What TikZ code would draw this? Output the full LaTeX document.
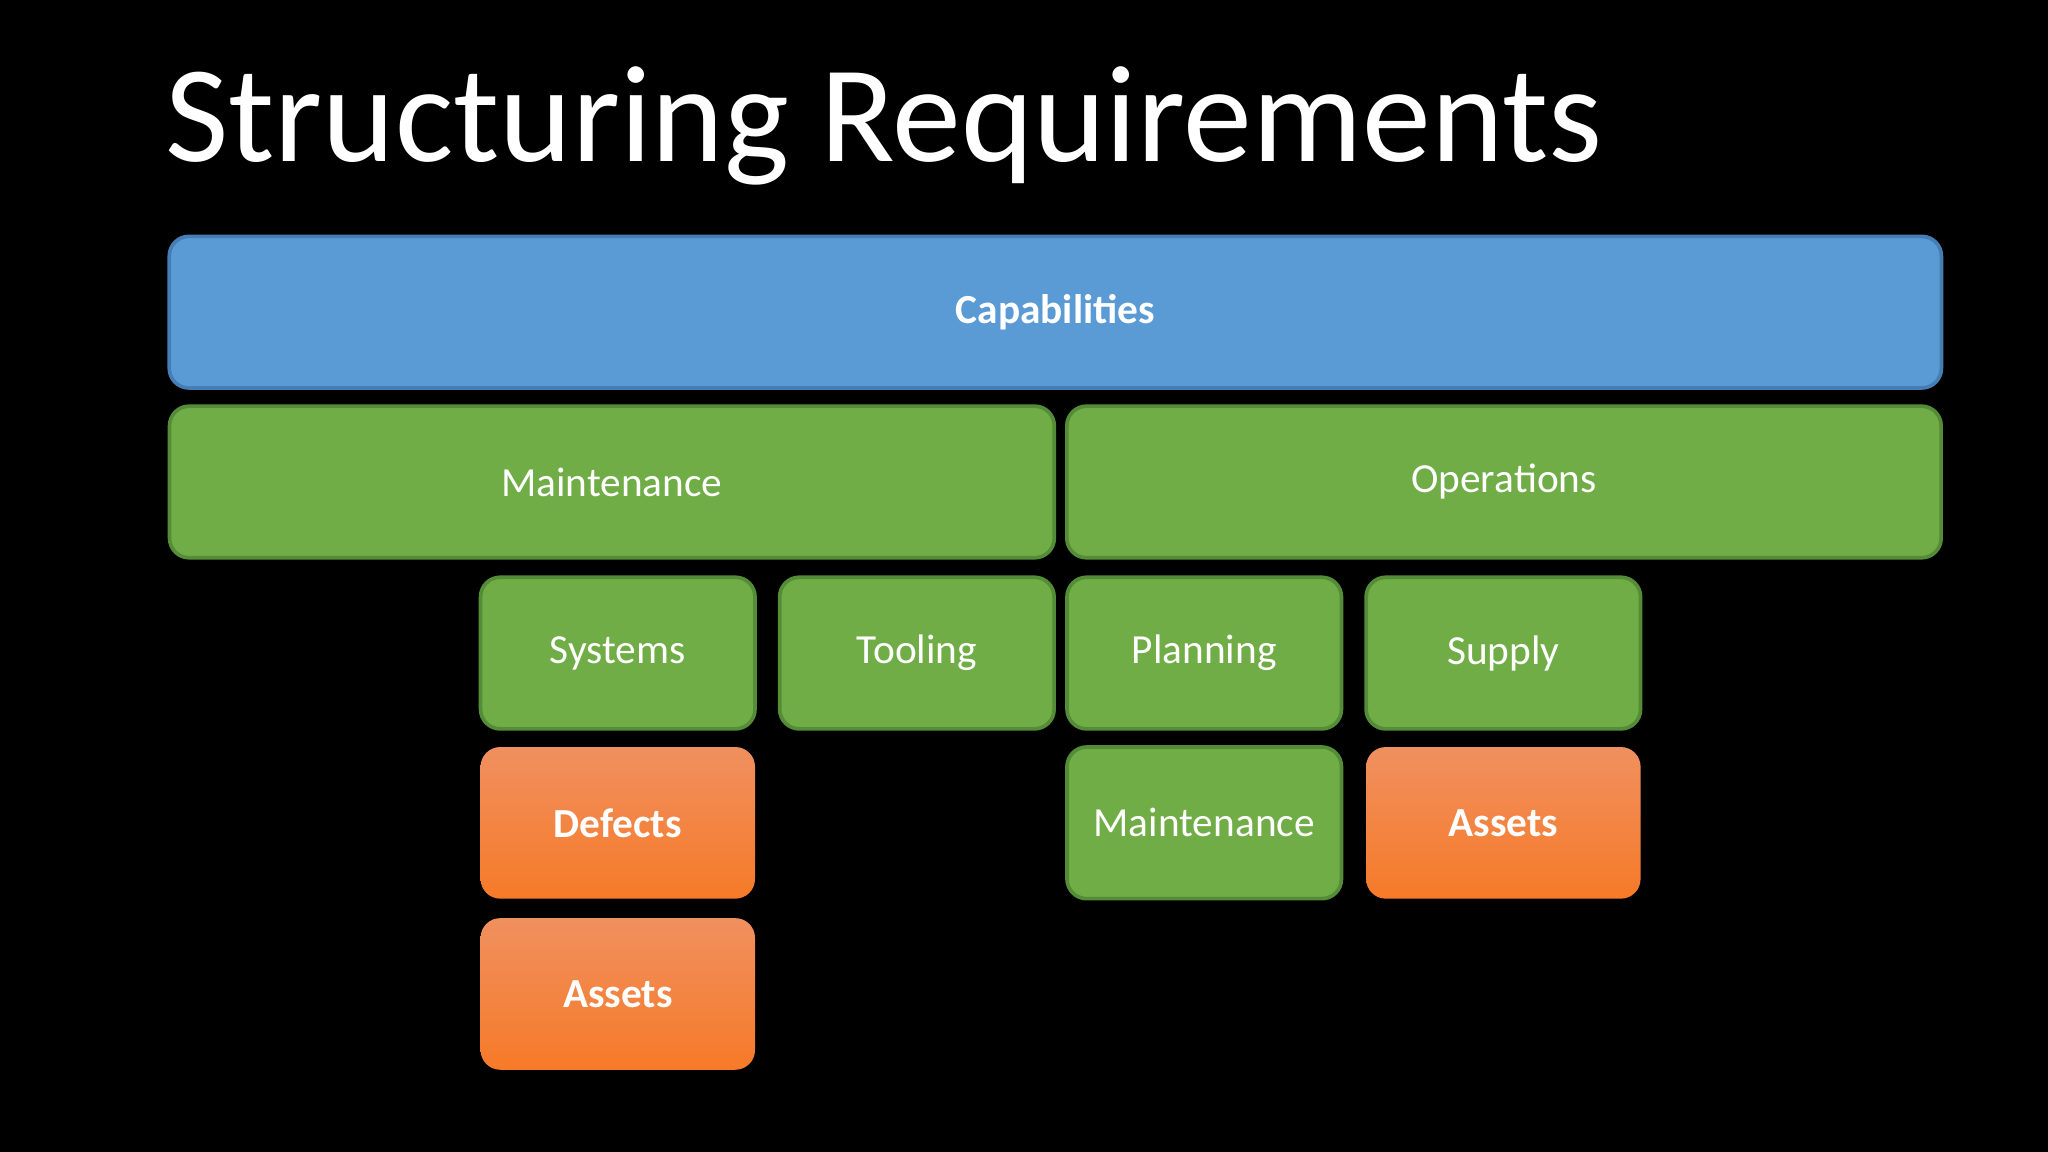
\documentclass[tikz,border=0pt]{standalone}
\usepackage{fontspec}
\setmainfont{Carlito}
\begin{document}
\begin{tikzpicture}[x=0.01cm,y=-0.01cm,
 box/.style={rounded corners=0.15cm,line width=0.8pt,text=white,font=\fontsize{9}{11}\selectfont,inner sep=0,minimum height=1.16cm},
 blue/.style={box,fill={rgb,255:red,91;green,155;blue,213},draw={rgb,255:red,70;green,125;blue,180},font=\bfseries\fontsize{9}{11}\selectfont},
 green/.style={box,fill={rgb,255:red,112;green,173;blue,71},draw={rgb,255:red,85;green,140;blue,55}},
 orange/.style={box,draw=none,top color={rgb,255:red,240;green,144;blue,95},bottom color={rgb,255:red,246;green,122;blue,40},font=\bfseries\fontsize{9}{11}\selectfont}]
\fill[black] (0,0) rectangle (1568,882);
\node[anchor=base west,text=white,font=\fontsize{30}{34}\selectfont,inner sep=0] (title) at (126,124) {Structuring Requirements};
\node[blue,minimum width=13.56cm] (cap) at (808,239) {Capabilities};
\node[green,minimum width=6.77cm] (mnt) at (468.5,369) {Maintenance};
\node[green,minimum width=6.69cm] (ops) at (1151.5,369) {Operations};
\node[green,minimum width=2.1cm] (sys) at (473,500) {Systems};
\node[green,minimum width=2.1cm] (tool) at (702,500) {Tooling};
\node[green,minimum width=2.1cm] (plan) at (922,500) {Planning};
\node[green,minimum width=2.1cm] (sup) at (1151,500) {Supply};
\node[orange,minimum width=2.1cm] (def) at (473,630) {Defects};
\node[green,minimum width=2.1cm] (mnt2) at (922,630) {Maintenance};
\node[orange,minimum width=2.1cm] (ast2) at (1151,630) {Assets};
\node[orange,minimum width=2.1cm] (ast1) at (473,761) {Assets};
\end{tikzpicture}
\end{document}
